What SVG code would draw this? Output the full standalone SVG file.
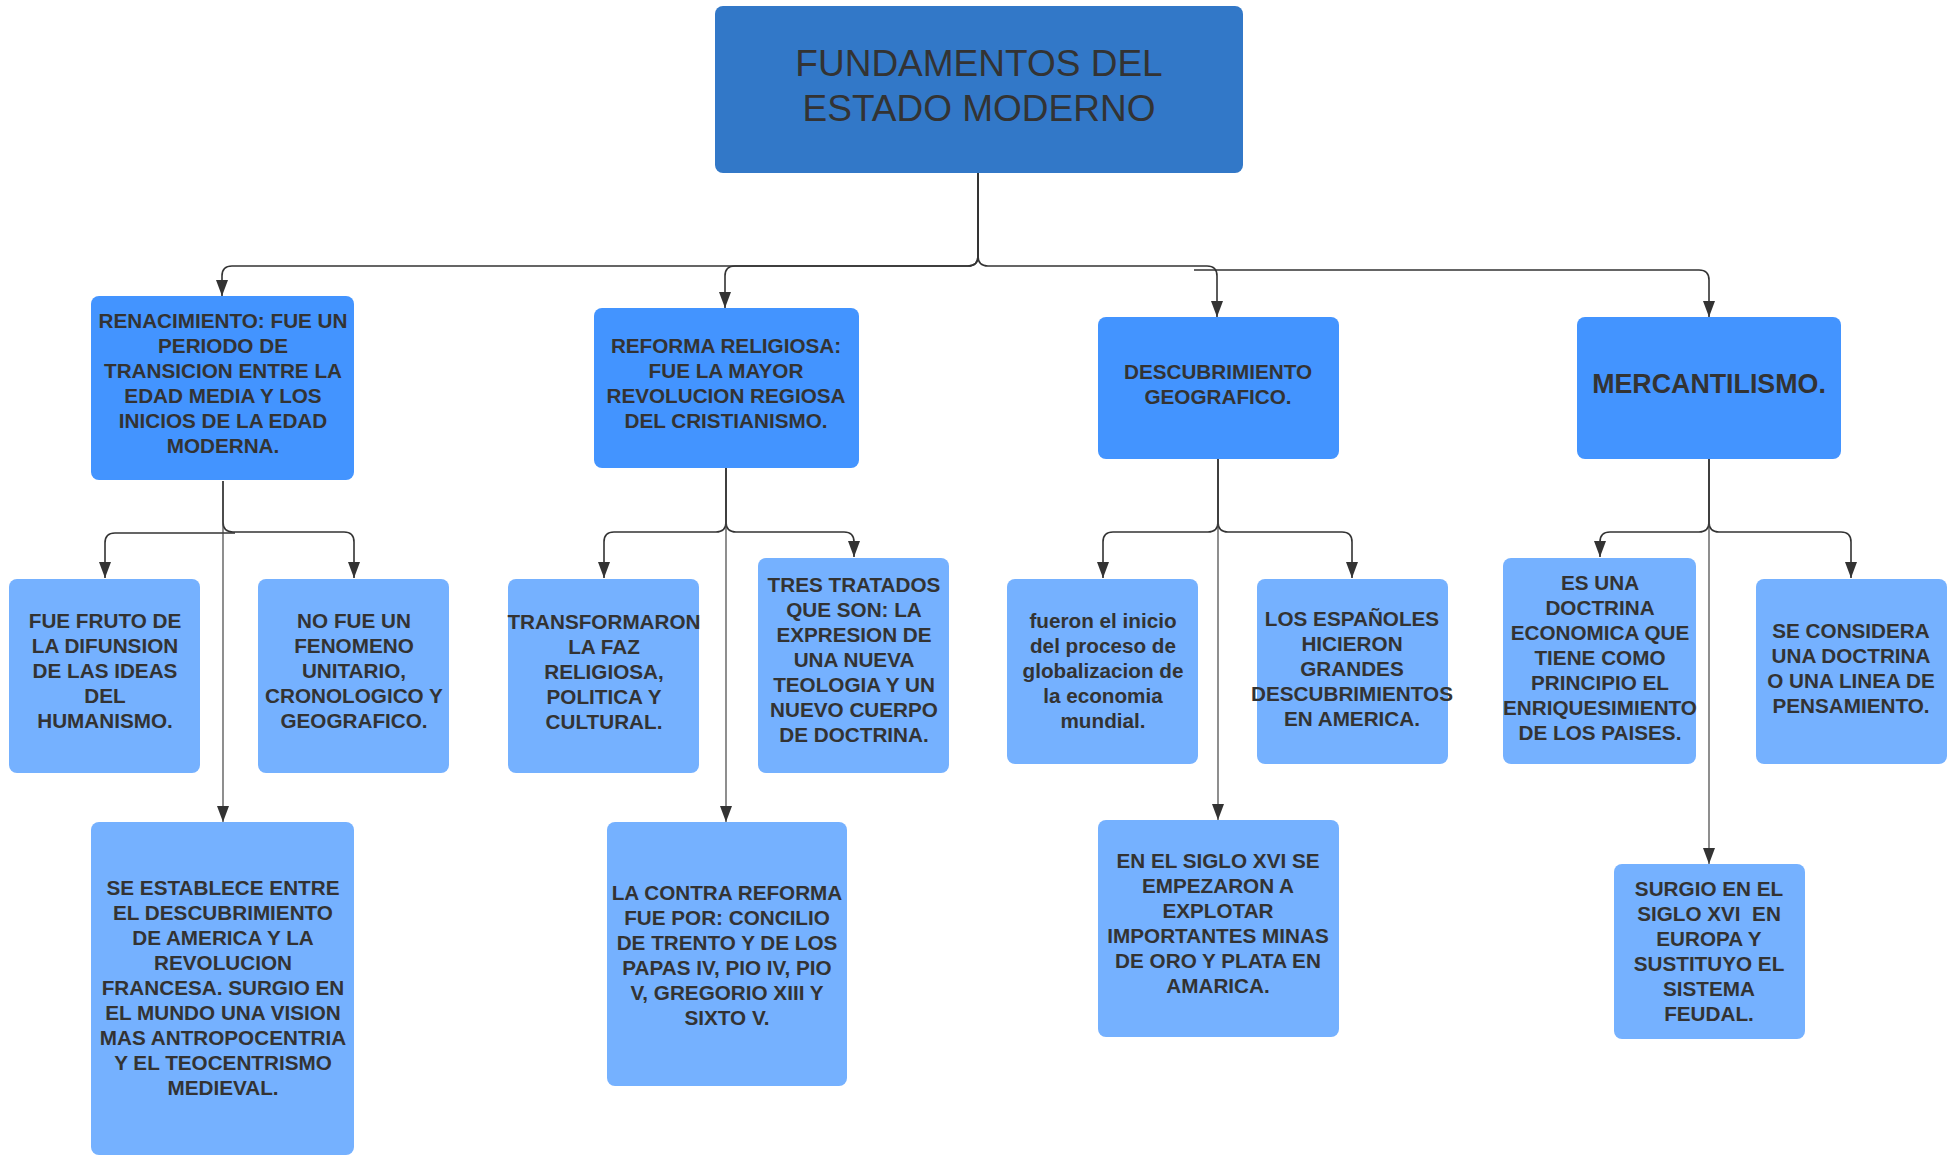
<svg xmlns="http://www.w3.org/2000/svg" width="1957" height="1156" viewBox="0 0 1957 1156">
<defs>
<style>
.root{fill:#3278c8}
.l1{fill:#4394ff}
.l2{fill:#75b1ff}
.t{font-family:"Liberation Sans",Arial,sans-serif;font-weight:bold;font-size:20.7px;fill:#333333;text-anchor:middle}
.title{font-family:"Liberation Sans",Arial,sans-serif;font-size:37px;fill:#333333;text-anchor:middle}
.big{font-size:26.8px}
.c{fill:none;stroke:#333333;stroke-width:1.6}
.d{fill:none;stroke:#444444;stroke-width:1.2}
</style>
<marker id="ah" markerUnits="userSpaceOnUse" markerWidth="16" markerHeight="12" refX="16" refY="6" orient="auto">
<path d="M0,0 L16,6 L0,12 z" fill="#333333"/>
</marker>
</defs>
<rect width="1957" height="1156" fill="#ffffff"/>
<g id="connectors">
<path class="c" d="M978,172 V256 Q978,266 968,266 H232 Q222,266 222,276 V296" marker-end="url(#ah)"/>
<path class="c" d="M978,172 V256 Q978,266 968,266 H735 Q725,266 725,276 V308" marker-end="url(#ah)"/>
<path class="c" d="M978,172 V256 Q978,266 988,266 H1207 Q1217,266 1217,276 V317" marker-end="url(#ah)"/>
<path class="c" d="M1194,270 H1699 Q1709,270 1709,280 V317" marker-end="url(#ah)"/>
<path class="c" d="M235,533 H115 Q105,533 105,543 V578" marker-end="url(#ah)"/>
<path class="c" d="M223,481 V522 Q223,532 233,532 H344 Q354,532 354,542 V578" marker-end="url(#ah)"/>
<path class="d" d="M223,481 V822" marker-end="url(#ah)"/>
<path class="c" d="M726,468 V522 Q726,532 716,532 H614 Q604,532 604,542 V578" marker-end="url(#ah)"/>
<path class="c" d="M726,468 V522 Q726,532 736,532 H844 Q854,532 854,542 V557" marker-end="url(#ah)"/>
<path class="d" d="M726,468 V822" marker-end="url(#ah)"/>
<path class="c" d="M1218,459 V522 Q1218,532 1208,532 H1113 Q1103,532 1103,542 V578" marker-end="url(#ah)"/>
<path class="c" d="M1218,459 V522 Q1218,532 1228,532 H1342 Q1352,532 1352,542 V578" marker-end="url(#ah)"/>
<path class="d" d="M1218,459 V820" marker-end="url(#ah)"/>
<path class="c" d="M1709,459 V522 Q1709,532 1699,532 H1610 Q1600,532 1600,542 V557" marker-end="url(#ah)"/>
<path class="c" d="M1709,459 V522 Q1709,532 1719,532 H1841 Q1851,532 1851,542 V578" marker-end="url(#ah)"/>
<path class="d" d="M1709,459 V864" marker-end="url(#ah)"/>
</g>
<g id="root">
<rect class="root" x="715" y="6" width="528" height="167" rx="8"/>
<text class="title"><tspan x="979" y="76">FUNDAMENTOS DEL</tspan><tspan x="979" y="121">ESTADO MODERNO</tspan></text>
</g>
<g id="renacimiento">
<rect class="l1" x="91" y="296" width="263" height="184" rx="8"/>
<text class="t"><tspan x="223" y="328">RENACIMIENTO: FUE UN</tspan><tspan x="223" y="353">PERIODO DE</tspan><tspan x="223" y="378">TRANSICION ENTRE LA</tspan><tspan x="223" y="403">EDAD MEDIA Y LOS</tspan><tspan x="223" y="428">INICIOS DE LA EDAD</tspan><tspan x="223" y="453">MODERNA.</tspan></text>
</g>
<g id="reforma">
<rect class="l1" x="594" y="308" width="265" height="160" rx="8"/>
<text class="t"><tspan x="726" y="353">REFORMA RELIGIOSA:</tspan><tspan x="726" y="378">FUE LA MAYOR</tspan><tspan x="726" y="403">REVOLUCION REGIOSA</tspan><tspan x="726" y="428">DEL CRISTIANISMO.</tspan></text>
</g>
<g id="descubrimiento">
<rect class="l1" x="1098" y="317" width="241" height="142" rx="8"/>
<text class="t"><tspan x="1218" y="379">DESCUBRIMIENTO</tspan><tspan x="1218" y="404">GEOGRAFICO.</tspan></text>
</g>
<g id="mercantilismo">
<rect class="l1" x="1577" y="317" width="264" height="142" rx="8"/>
<text class="t big"><tspan x="1709" y="393">MERCANTILISMO.</tspan></text>
</g>
<g id="fue-fruto">
<rect class="l2" x="9" y="579" width="191" height="194" rx="8"/>
<text class="t"><tspan x="105" y="628">FUE FRUTO DE</tspan><tspan x="105" y="653">LA DIFUNSION</tspan><tspan x="105" y="678">DE LAS IDEAS</tspan><tspan x="105" y="703">DEL</tspan><tspan x="105" y="728">HUMANISMO.</tspan></text>
</g>
<g id="no-fue">
<rect class="l2" x="258" y="579" width="191" height="194" rx="8"/>
<text class="t"><tspan x="354" y="628">NO FUE UN</tspan><tspan x="354" y="653">FENOMENO</tspan><tspan x="354" y="678">UNITARIO,</tspan><tspan x="354" y="703">CRONOLOGICO Y</tspan><tspan x="354" y="728">GEOGRAFICO.</tspan></text>
</g>
<g id="transformaron">
<rect class="l2" x="508" y="579" width="191" height="194" rx="8"/>
<text class="t"><tspan x="604" y="629">TRANSFORMARON</tspan><tspan x="604" y="654">LA FAZ</tspan><tspan x="604" y="679">RELIGIOSA,</tspan><tspan x="604" y="704">POLITICA Y</tspan><tspan x="604" y="729">CULTURAL.</tspan></text>
</g>
<g id="tres-tratados">
<rect class="l2" x="758" y="558" width="191" height="215" rx="8"/>
<text class="t"><tspan x="854" y="592">TRES TRATADOS</tspan><tspan x="854" y="617">QUE SON: LA</tspan><tspan x="854" y="642">EXPRESION DE</tspan><tspan x="854" y="667">UNA NUEVA</tspan><tspan x="854" y="692">TEOLOGIA Y UN</tspan><tspan x="854" y="717">NUEVO CUERPO</tspan><tspan x="854" y="742">DE DOCTRINA.</tspan></text>
</g>
<g id="fueron">
<rect class="l2" x="1007" y="579" width="191" height="185" rx="8"/>
<text class="t"><tspan x="1103" y="628">fueron el inicio</tspan><tspan x="1103" y="653">del proceso de</tspan><tspan x="1103" y="678">globalizacion de</tspan><tspan x="1103" y="703">la economia</tspan><tspan x="1103" y="728">mundial.</tspan></text>
</g>
<g id="espanoles">
<rect class="l2" x="1257" y="579" width="191" height="185" rx="8"/>
<text class="t"><tspan x="1352" y="626">LOS ESPAÑOLES</tspan><tspan x="1352" y="651">HICIERON</tspan><tspan x="1352" y="676">GRANDES</tspan><tspan x="1352" y="701">DESCUBRIMIENTOS</tspan><tspan x="1352" y="726">EN AMERICA.</tspan></text>
</g>
<g id="es-una">
<rect class="l2" x="1503" y="558" width="193" height="206" rx="8"/>
<text class="t"><tspan x="1600" y="590">ES UNA</tspan><tspan x="1600" y="615">DOCTRINA</tspan><tspan x="1600" y="640">ECONOMICA QUE</tspan><tspan x="1600" y="665">TIENE COMO</tspan><tspan x="1600" y="690">PRINCIPIO EL</tspan><tspan x="1600" y="715">ENRIQUESIMIENTO</tspan><tspan x="1600" y="740">DE LOS PAISES.</tspan></text>
</g>
<g id="se-considera">
<rect class="l2" x="1756" y="579" width="191" height="185" rx="8"/>
<text class="t"><tspan x="1851" y="638">SE CONSIDERA</tspan><tspan x="1851" y="663">UNA DOCTRINA</tspan><tspan x="1851" y="688">O UNA LINEA DE</tspan><tspan x="1851" y="713">PENSAMIENTO.</tspan></text>
</g>
<g id="se-establece">
<rect class="l2" x="91" y="822" width="263" height="333" rx="8"/>
<text class="t"><tspan x="223" y="895">SE ESTABLECE ENTRE</tspan><tspan x="223" y="920">EL DESCUBRIMIENTO</tspan><tspan x="223" y="945">DE AMERICA Y LA</tspan><tspan x="223" y="970">REVOLUCION</tspan><tspan x="223" y="995">FRANCESA. SURGIO EN</tspan><tspan x="223" y="1020">EL MUNDO UNA VISION</tspan><tspan x="223" y="1045">MAS ANTROPOCENTRIA</tspan><tspan x="223" y="1070">Y EL TEOCENTRISMO</tspan><tspan x="223" y="1095">MEDIEVAL.</tspan></text>
</g>
<g id="contra-reforma">
<rect class="l2" x="607" y="822" width="240" height="264" rx="8"/>
<text class="t"><tspan x="727" y="900">LA CONTRA REFORMA</tspan><tspan x="727" y="925">FUE POR: CONCILIO</tspan><tspan x="727" y="950">DE TRENTO Y DE LOS</tspan><tspan x="727" y="975">PAPAS IV, PIO IV, PIO</tspan><tspan x="727" y="1000">V, GREGORIO XIII Y</tspan><tspan x="727" y="1025">SIXTO V.</tspan></text>
</g>
<g id="siglo-xvi">
<rect class="l2" x="1098" y="820" width="241" height="217" rx="8"/>
<text class="t"><tspan x="1218" y="868">EN EL SIGLO XVI SE</tspan><tspan x="1218" y="893">EMPEZARON A</tspan><tspan x="1218" y="918">EXPLOTAR</tspan><tspan x="1218" y="943">IMPORTANTES MINAS</tspan><tspan x="1218" y="968">DE ORO Y PLATA EN</tspan><tspan x="1218" y="993">AMARICA.</tspan></text>
</g>
<g id="surgio">
<rect class="l2" x="1614" y="864" width="191" height="175" rx="8"/>
<text class="t" style="white-space:pre"><tspan x="1709" y="896">SURGIO EN EL</tspan><tspan x="1709" y="921">SIGLO XVI  EN</tspan><tspan x="1709" y="946">EUROPA Y</tspan><tspan x="1709" y="971">SUSTITUYO EL</tspan><tspan x="1709" y="996">SISTEMA</tspan><tspan x="1709" y="1021">FEUDAL.</tspan></text>
</g>
</svg>
